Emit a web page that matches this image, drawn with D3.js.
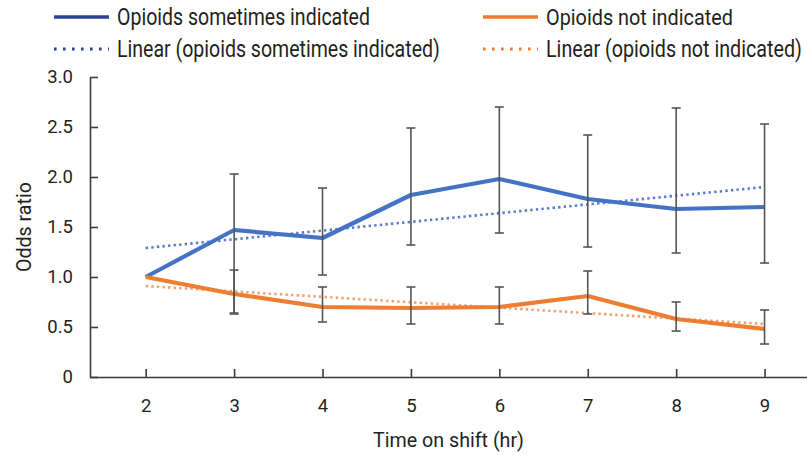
<!DOCTYPE html>
<html>
<head>
<meta charset="utf-8">
<script src="https://cdn.jsdelivr.net/npm/d3@7"></script>
<style>
  body { margin: 0; background: #fff; }
  svg text { font-family: Roboto, "Noto Sans", sans-serif; fill: #231f20; }
</style>
</head>
<body>
<div id="chart"></div>
<script>
// time on shift (hr)
let hours = [2, 3, 4, 5, 6, 7, 8, 9];

// opioids sometimes indicated: odds ratio and error bar ends
let sometimesOR = [1.00, 1.47, 1.39, 1.82, 1.98, 1.78, 1.68, 1.70];
let sometimesLo = [null, 0.63, 1.02, 1.32, 1.44, 1.30, 1.24, 1.14];
let sometimesHi = [null, 2.03, 1.89, 2.49, 2.70, 2.42, 2.69, 2.53];

// opioids not indicated
let notOR = [1.00, 0.83, 0.70, 0.69, 0.70, 0.81, 0.58, 0.48];
let notLo = [null, 0.64, 0.55, 0.53, 0.53, 0.63, 0.46, 0.33];
let notHi = [null, 1.07, 0.90, 0.90, 0.90, 1.06, 0.75, 0.67];

// linear trend lines, value at first and last hour
let trendHours = [2, 9];
let trendSometimes = [1.29, 1.90];
let trendNot = [0.91, 0.53];

let yTicks = [0, 0.5, 1.0, 1.5, 2.0, 2.5, 3.0];

let width = 807, height = 455;
let margin = { top: 77, left: 90, right: 0, bottom: 78 };

let svg = d3.select('#chart')
  .append('svg')
  .attr('width', width)
  .attr('height', height);

// x scale runs past the first and last hour, like the original category axis
let xScale = d3.scaleLinear()
  .domain([hours[0] - 0.63, hours[hours.length - 1] + 0.48])
  .range([margin.left, width - margin.right]);

let yScale = d3.scaleLinear()
  .domain([0, 3])
  .range([height - margin.bottom, margin.top]);

let blue = '#4472c4', orange = '#ed7d31';

// squeezes a text horizontally so it has the narrow look of the original face
let narrowText = function(parent, x, y, rotate, size, target, label) {
  let t = parent.append('text')
    .attr('font-size', size)
    .text(label);
  let sx = target / t.node().getComputedTextLength();
  t.attr('transform', `translate(${x}, ${y}) rotate(${rotate}) scale(${sx}, 1)`);
  return t;
}

// axes
let xAxis = d3.axisBottom(xScale)
  .tickValues(hours)
  .tickSizeInner(-8)
  .tickSizeOuter(0)
  .tickPadding(22)
  .tickFormat(d3.format('d'));

svg.append('g')
    .attr('class', 'x axis')
    .attr('transform', `translate(0, ${yScale(0)})`)
  .call(xAxis);

let yAxis = d3.axisLeft(yScale)
  .tickValues(yTicks)
  .tickSizeInner(-8)
  .tickSizeOuter(0)
  .tickPadding(17)
  .tickFormat(d => d === 0 ? '0' : d3.format('.1f')(d));

svg.append('g')
    .attr('class', 'y axis')
    .attr('transform', `translate(${margin.left}, 0)`)
  .call(yAxis);

svg.selectAll('.axis path, .axis line')
  .attr('stroke', '#3a3a3a')
  .attr('stroke-width', 1.6);
svg.selectAll('.axis text')
  .attr('font-family', 'Roboto, sans-serif')
  .attr('font-size', 18.5)
  .attr('fill', '#231f20');

// axis titles
narrowText(svg, 373, 447, 0, 19.5, 151, 'Time on shift (hr)');
narrowText(svg, 31, (yScale(0) + yScale(3)) / 2 + 45, -90, 19.5, 90, 'Odds ratio');

// trend lines
let trendLine = d3.line()
  .x((d, i) => xScale(trendHours[i]))
  .y(d => yScale(d));

svg.append('path')
  .datum(trendSometimes)
  .attr('d', trendLine)
  .attr('fill', 'none')
  .attr('stroke', '#5a7cc8')
  .attr('stroke-width', 2.6)
  .attr('stroke-dasharray', '2.4,3.2');

svg.append('path')
  .datum(trendNot)
  .attr('d', trendLine)
  .attr('fill', 'none')
  .attr('stroke', '#f0a070')
  .attr('stroke-width', 2.6)
  .attr('stroke-dasharray', '2.4,3.2');

// main lines
let line = d3.line()
  .x((d, i) => xScale(hours[i]))
  .y(d => yScale(d));

svg.append('path')
  .datum(sometimesOR)
  .attr('d', line)
  .attr('fill', 'none')
  .attr('stroke', blue)
  .attr('stroke-width', 4.2)
  .attr('stroke-linejoin', 'round');

svg.append('path')
  .datum(notOR)
  .attr('d', line)
  .attr('fill', 'none')
  .attr('stroke', orange)
  .attr('stroke-width', 4.2)
  .attr('stroke-linejoin', 'round');

// error bars
let drawErrors = function(lo, hi) {
  let rows = hours.map((h, i) => ({ h: h, lo: lo[i], hi: hi[i] }))
    .filter(d => d.lo != null);
  let g = svg.append('g')
    .attr('stroke', '#555')
    .attr('stroke-width', 1.6);
  g.selectAll('line.stem')
    .data(rows)
    .enter()
    .append('line')
      .attr('x1', d => xScale(d.h))
      .attr('x2', d => xScale(d.h))
      .attr('y1', d => yScale(d.lo))
      .attr('y2', d => yScale(d.hi));
  ['lo', 'hi'].forEach(k => {
    g.selectAll('line.cap-' + k)
      .data(rows)
      .enter()
      .append('line')
        .attr('x1', d => xScale(d.h) - 4.5)
        .attr('x2', d => xScale(d.h) + 4.5)
        .attr('y1', d => yScale(d[k]))
        .attr('y2', d => yScale(d[k]));
  });
}
drawErrors(sometimesLo, sometimesHi);
drawErrors(notLo, notHi);

// legend
let legendItems = [
  { label: 'Opioids sometimes indicated', color: '#2b4396', dash: null, x: 54, y: 17, w: 253 },
  { label: 'Opioids not indicated', color: '#f07a2a', dash: null, x: 483, y: 17, w: 187 },
  { label: 'Linear (opioids sometimes indicated)', color: '#2b4396', dash: '2.6,6.4', x: 54, y: 49, w: 323 },
  { label: 'Linear (opioids not indicated)', color: '#f07a2a', dash: '2.6,6.4', x: 483, y: 49, w: 256 }
];

let legend = svg.append('g').attr('class', 'legend');
legendItems.forEach(d => {
  legend.append('line')
    .attr('x1', d.x)
    .attr('x2', d.x + 55)
    .attr('y1', d.y)
    .attr('y2', d.y)
    .attr('stroke', d.color)
    .attr('stroke-width', d.dash ? 3 : 3.6)
    .attr('stroke-dasharray', d.dash);
  narrowText(legend, d.x + 63, d.y + 8.3, 0, 23, d.w, d.label);
});
</script>
</body>
</html>
